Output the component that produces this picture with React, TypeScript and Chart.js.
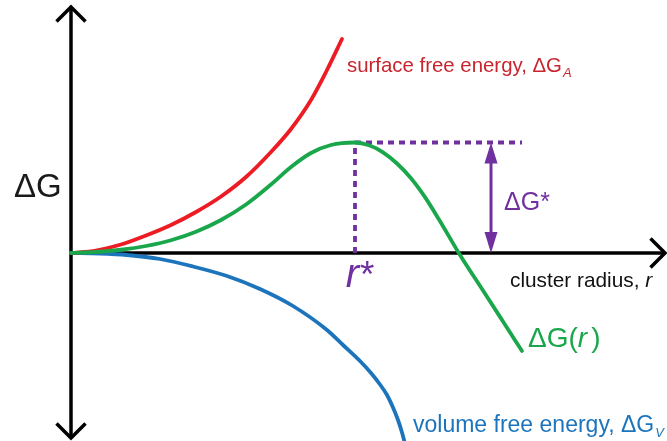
import { useEffect, useRef } from "react";
import { Chart, registerables } from "chart.js";

Chart.register(...registerables);

// Cluster radius r and free-energy terms, in arbitrary units.
const surfaceR = [0, 25, 50, 75, 100, 125, 150, 175, 200, 220, 240, 255, 271];
const surfaceG = [0, 2.5, 8.5, 17.5, 28, 41, 56.5, 76, 101, 124, 153, 181, 214];

const volumeR = [0, 29, 56, 89, 122, 156, 189, 222, 256, 272, 289, 300, 309, 316, 322, 327, 331, 334, 336];
const volumeG = [0, -0.5, -2, -6, -13.5, -23, -36, -53, -77, -92, -108, -120, -131.5, -142, -154.5, -167, -179.5, -191, -200];

const totalR = [0, 25, 50, 75, 100, 125, 150, 175, 200, 220, 240, 260, 284, 298, 312, 326, 340, 354, 368, 389, 412, 432, 451];
const totalG = [0, 1, 3.25, 7, 12.75, 21.25, 33, 48.5, 68.5, 86, 100, 108, 110.5, 107.7, 100.7, 89.5, 74.8, 55.9, 33.5, -2, -37.5, -68.5, -98];

// Extent of the horizontal ΔG* guide and where the ΔG* arrow sits.
const GUIDE_END_R = 451;
const BARRIER_ARROW_R = 420;

// Axis ranges (r on x, ΔG on y).
const R_MIN = -71;
const R_MAX = 596;
const G_MIN = -188;
const G_MAX = 253;

const RED = "#ED1C24";
const GREEN = "#1AA64A";
const BLUE = "#1C75BC";
const PURPLE = "#7030A0";
const FONT = '"Liberation Sans", Arial, sans-serif';

const toPoints = (xs: number[], ys: number[]) => xs.map((x, i) => ({ x, y: ys[i] }));

type Run = { t: string; size: number; italic?: boolean; dy?: number; dx?: number };

function drawRuns(ctx: CanvasRenderingContext2D, runs: Run[], x: number, y: number, color: string, align: "left" | "center" = "left") {
  ctx.save();
  ctx.fillStyle = color;
  ctx.textBaseline = "alphabetic";
  ctx.textAlign = "left";
  let total = 0;
  for (const r of runs) {
    ctx.font = `${r.italic ? "italic " : ""}${r.size}px ${FONT}`;
    total += ctx.measureText(r.t).width + (r.dx || 0);
  }
  let cx = align === "center" ? x - total / 2 : x;
  for (const r of runs) {
    ctx.font = `${r.italic ? "italic " : ""}${r.size}px ${FONT}`;
    cx += r.dx || 0;
    ctx.fillText(r.t, cx, y + (r.dy || 0));
    cx += ctx.measureText(r.t).width;
  }
  ctx.restore();
}

export default function App() {
  const canvasRef = useRef<HTMLCanvasElement | null>(null);

  useEffect(() => {
    const canvas = canvasRef.current;
    if (!canvas) return;

    // Critical radius and barrier height: the maximum of ΔG(r).
    let peak = 0;
    totalG.forEach((g, i) => {
      if (g > totalG[peak]) peak = i;
    });
    const rStar = totalR[peak];
    const gStar = totalG[peak];

    const axesPlugin = {
      id: "axesArrows",
      beforeDatasetsDraw(chart: any) {
        const { ctx, chartArea, scales } = chart;
        const x0 = scales.x.getPixelForValue(0);
        const y0 = scales.y.getPixelForValue(0);
        const top = chartArea.top + 7;
        const bottom = chartArea.bottom - 3;
        const right = chartArea.right - 2;
        const head = 14.5;
        ctx.save();
        ctx.strokeStyle = "#000";
        ctx.lineWidth = 3.5;
        ctx.lineJoin = "miter";
        ctx.lineCap = "butt";
        // vertical ΔG axis, arrow at both ends
        ctx.beginPath();
        ctx.moveTo(x0, top);
        ctx.lineTo(x0, bottom);
        ctx.stroke();
        ctx.beginPath();
        ctx.moveTo(x0 - head, top + head);
        ctx.lineTo(x0, top);
        ctx.lineTo(x0 + head, top + head);
        ctx.stroke();
        ctx.beginPath();
        ctx.moveTo(x0 - head, bottom - head);
        ctx.lineTo(x0, bottom);
        ctx.lineTo(x0 + head, bottom - head);
        ctx.stroke();
        // horizontal r axis
        ctx.beginPath();
        ctx.moveTo(x0, y0);
        ctx.lineTo(right, y0);
        ctx.stroke();
        ctx.beginPath();
        ctx.moveTo(right - head, y0 - head);
        ctx.lineTo(right, y0);
        ctx.lineTo(right - head, y0 + head);
        ctx.stroke();
        ctx.restore();
      },
      afterDatasetsDraw(chart: any) {
        const { ctx, scales } = chart;
        const px = (r: number) => scales.x.getPixelForValue(r);
        const py = (g: number) => scales.y.getPixelForValue(g);

        // ΔG* double-headed arrow between the barrier top and the axis
        const ax = px(BARRIER_ARROW_R);
        const yTop = py(gStar);
        const yBot = py(0);
        const hl = 21;
        const hw = 6.5;
        ctx.save();
        ctx.strokeStyle = PURPLE;
        ctx.fillStyle = PURPLE;
        ctx.lineWidth = 3;
        ctx.beginPath();
        ctx.moveTo(ax, yTop + hl - 2);
        ctx.lineTo(ax, yBot - hl + 2);
        ctx.stroke();
        ctx.beginPath();
        ctx.moveTo(ax, yTop);
        ctx.lineTo(ax - hw, yTop + hl);
        ctx.lineTo(ax + hw, yTop + hl);
        ctx.closePath();
        ctx.fill();
        ctx.beginPath();
        ctx.moveTo(ax, yBot);
        ctx.lineTo(ax - hw, yBot - hl);
        ctx.lineTo(ax + hw, yBot - hl);
        ctx.closePath();
        ctx.fill();
        ctx.restore();

        // text labels
        drawRuns(ctx, [{ t: "ΔG", size: 33 }], px(-57), py(56), "#1a1a1a");
        drawRuns(
          ctx,
          [
            { t: "surface free energy, ΔG", size: 20.4 },
            { t: "A", size: 13, italic: true, dy: 5, dx: 1 },
          ],
          px(276),
          py(181),
          "#C8262E"
        );
        drawRuns(
          ctx,
          [
            { t: "cluster radius, ", size: 20.8 },
            { t: "r", size: 20.8, italic: true },
          ],
          px(439),
          py(-34),
          "#111"
        );
        drawRuns(
          ctx,
          [
            { t: "ΔG(", size: 28 },
            { t: "r", size: 28, italic: true },
            { t: ")", size: 28, dx: 4 },
          ],
          px(457),
          py(-94),
          GREEN
        );
        drawRuns(
          ctx,
          [
            { t: "volume free energy, ΔG", size: 23 },
            { t: "V", size: 13, italic: true, dy: 5, dx: 1 },
          ],
          px(342),
          py(-179),
          BLUE
        );
        drawRuns(ctx, [{ t: "ΔG*", size: 25 }], px(433), py(43), PURPLE);
        drawRuns(
          ctx,
          [
            { t: "r", size: 40, italic: true },
            { t: "*", size: 37, dx: 1 },
          ],
          px(rStar + 5),
          py(-34),
          PURPLE,
          "center"
        );
      },
    };

    const curve = (data: { x: number; y: number }[], color: string) => ({
      data,
      borderColor: color,
      borderWidth: 3.8,
      showLine: true,
      pointRadius: 0,
      pointHoverRadius: 0,
      cubicInterpolationMode: "monotone" as const,
      borderCapStyle: "round" as const,
    });

    const guide = (data: { x: number; y: number }[]) => ({
      data,
      borderColor: PURPLE,
      borderWidth: 3.8,
      borderDash: [6, 5],
      borderCapStyle: "butt" as const,
      showLine: true,
      pointRadius: 0,
      pointHoverRadius: 0,
      tension: 0,
    });

    const chart = new Chart(canvas, {
      type: "scatter",
      data: {
        datasets: [
          { label: "ΔG(r)", ...curve(toPoints(totalR, totalG), GREEN) },
          { label: "ΔG_A", ...curve(toPoints(surfaceR, surfaceG), RED) },
          { label: "ΔG_V", ...curve(toPoints(volumeR, volumeG), BLUE) },
          { label: "r*", ...guide([{ x: rStar, y: 0 }, { x: rStar, y: gStar }]) },
          { label: "ΔG*", ...guide([{ x: rStar, y: gStar }, { x: GUIDE_END_R, y: gStar }]) },
        ],
      } as any,
      options: {
        animation: false,
        responsive: false,
        events: [],
        layout: { padding: 0 },
        scales: {
          x: { type: "linear", min: R_MIN, max: R_MAX, display: false },
          y: { type: "linear", min: G_MIN, max: G_MAX, display: false },
        },
        plugins: {
          legend: { display: false },
          tooltip: { enabled: false },
        },
      },
      plugins: [axesPlugin],
    });

    return () => chart.destroy();
  }, []);

  return (
    <div style={{ position: "fixed", left: 0, top: 0, width: 667, height: 441, background: "#fff" }}>
      <canvas ref={canvasRef} width={667} height={441} style={{ display: "block" }} />
    </div>
  );
}
